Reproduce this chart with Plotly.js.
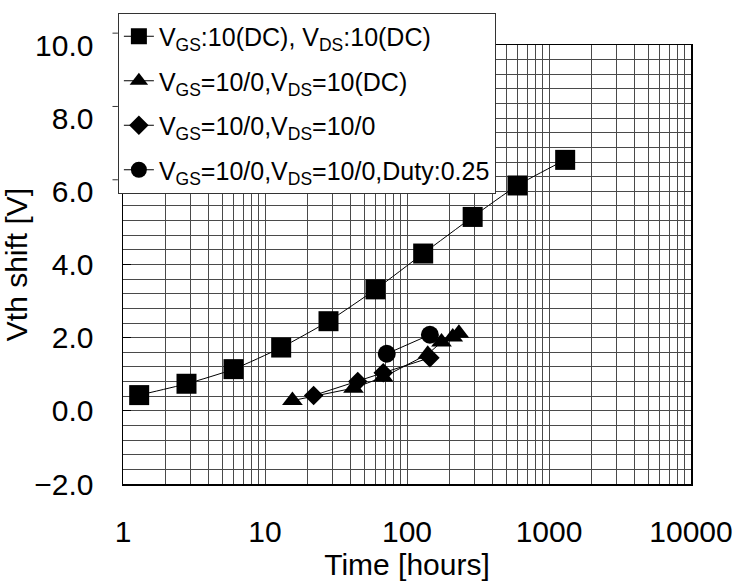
<!DOCTYPE html>
<html>
<head>
<meta charset="utf-8">
<script src="https://cdn.plot.ly/plotly-3.0.1.min.js"></script>
<style>
  html, body { margin: 0; padding: 0; background: #ffffff; }
  #chart { width: 744px; height: 583px; }
</style>
</head>
<body>
<div id="chart"></div>
<script>
// Stress time in hours and the measured threshold-voltage shift (V)
const hoursDC = [1.3, 2.8, 6.0, 13, 28, 60, 130, 290, 600, 1300];
const vthDC = [0.43, 0.74, 1.14, 1.73, 2.45, 3.32, 4.30, 5.30, 6.16, 6.86];

const hoursPulseGate = [15.6, 42, 68, 140, 175, 210, 232];
const vthPulseGate = [0.28, 0.62, 0.92, 1.55, 1.88, 2.02, 2.12];

const hoursPulseBoth = [22, 45, 68, 145];
const vthPulseBoth = [0.42, 0.80, 1.04, 1.45];

const hoursDuty = [72, 145];
const vthDuty = [1.56, 2.08];

const seriesNames = [
  'V<sub>GS</sub>:10(DC), V<sub>DS</sub>:10(DC)',
  'V<sub>GS</sub>=10/0,V<sub>DS</sub>=10(DC)',
  'V<sub>GS</sub>=10/0,V<sub>DS</sub>=10/0',
  'V<sub>GS</sub>=10/0,V<sub>DS</sub>=10/0,Duty:0.25'
];

const xTickVals = [1, 10, 100, 1000, 10000];
const xTickText = ['1', '10', '100', '1000', '10000'];

function series(x, y, name, symbol, size, shape, group) {
  return {
    x: x, y: y, name: name, type: 'scatter', mode: 'lines+markers',
    legendgroup: group,
    line: { color: '#000000', width: 1, shape: shape, smoothing: 0.6 },
    marker: { symbol: symbol, size: size, color: '#000000' }
  };
}

const traces = [
  series(hoursDC, vthDC, seriesNames[0], 'square', 20, 'spline', 'a'),
  series(hoursPulseGate, vthPulseGate, seriesNames[1], 'triangle-up', 18, 'linear', 'b'),
  series(hoursPulseBoth, vthPulseBoth, seriesNames[2], 'diamond', 15, 'linear', 'c'),
  series(hoursDuty, vthDuty, seriesNames[3], 'circle', 18, 'linear', 'd')
];

const gridColor = '#4a4a4a';
const font = 'Liberation Sans, Arial, sans-serif';

// short outside ticks along the left edge of the legend frame
const frameTicks = [0.0, 0.5, 1.0].map(function (f) {
  return {
    type: 'line', xref: 'paper', yref: 'paper', layer: 'above',
    x0: -0.0185, x1: -0.009,
    y0: 1.027 - f * 0.334, y1: 1.027 - f * 0.334,
    line: { color: '#333333', width: 1 }
  };
});

const layout = {
  width: 744, height: 583,
  margin: { l: 123, r: 53, t: 40, b: 99 },
  paper_bgcolor: '#ffffff', plot_bgcolor: '#ffffff',
  font: { family: font, color: '#000000', size: 30 },
  showlegend: true,
  legend: {
    x: -0.009, y: 1.074, xanchor: 'left', yanchor: 'top',
    bgcolor: '#ffffff', bordercolor: '#333333', borderwidth: 1,
    font: { family: font, size: 25, color: '#000000' },
    tracegroupgap: 9, itemsizing: 'trace'
  },
  shapes: frameTicks,
  xaxis: {
    type: 'log', range: [0, 4],
    tickmode: 'array', tickvals: xTickVals, ticktext: xTickText,
    ticks: '', ticklabelstandoff: 20,
    showgrid: true, gridcolor: gridColor, gridwidth: 1,
    minor: { dtick: 'D1', showgrid: true, gridcolor: gridColor, gridwidth: 1, ticks: '' },
    showline: true, linecolor: '#000000', linewidth: 1.5, mirror: true,
    zeroline: false,
    title: { text: 'Time [hours]', font: { size: 30 }, standoff: 4 }
  },
  yaxis: {
    range: [-2, 10], dtick: 2, tick0: 0, tickformat: '.1f',
    ticks: 'inside', ticklen: 8, tickcolor: '#000000', ticklabelstandoff: 22,
    showgrid: true, gridcolor: gridColor, gridwidth: 1,
    minor: { dtick: 0.4, tick0: 0, showgrid: true, gridcolor: gridColor, gridwidth: 1, ticks: '' },
    showline: true, linecolor: '#000000', linewidth: 1.5, mirror: true,
    zeroline: false,
    title: { text: 'Vth shift [V]', font: { size: 30 }, standoff: 1 }
  }
};

Plotly.newPlot('chart', traces, layout, { displayModeBar: false, staticPlot: true });
</script>
</body>
</html>
